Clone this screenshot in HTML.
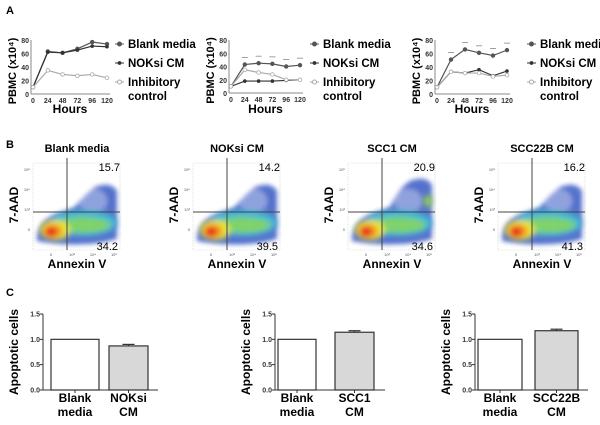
<!DOCTYPE html>
<html><head><meta charset="utf-8"><style>
html,body{margin:0;padding:0;background:#fff}
svg{display:block;font-family:"Liberation Sans",Arial,sans-serif}
</style></head><body>
<svg id="fig" width="600" height="425" viewBox="0 0 600 425">
<defs>
<filter id="blur1" x="-50%" y="-50%" width="200%" height="200%"><feGaussianBlur stdDeviation="3"/></filter>
<filter id="blur2" x="-50%" y="-50%" width="200%" height="200%"><feGaussianBlur stdDeviation="2.5"/></filter>
</defs>
<text x="6" y="14" font-size="11" font-weight="bold">A</text>
<text x="6" y="148" font-size="11" font-weight="bold">B</text>
<text x="6" y="296" font-size="11" font-weight="bold">C</text>
<g id="pa"></g><g id="pb"></g><g id="pc"></g>
</svg>
<script>
const NS='http://www.w3.org/2000/svg';
function mk(p,t,a,txt){const e=document.createElementNS(NS,t);for(const k in a)e.setAttribute(k,a[k]);if(txt!==undefined)e.textContent=txt;p.appendChild(e);return e;}

// Panel A data
const hours=[0,24,48,72,96,120];
const yTicksA=[0,20,40,60,80];
const a1Blank=[10,63,61,67,77,74];
const a1Nok=[10,62,61,65,71,70];
const a1Inh=[10,35,29,27,29,24];
const a2Blank=[10,43,45,44,40,42];
const a2Nok=[10,18,18,18,19,20];
const a2Inh=[10,35,31,28,20,20];
const a3Blank=[10,51,66,61,57,65];
const a3Nok=[10,33,31,36,27,34];
const a3Inh=[10,33,31,31,26,28];
const seriesNames=['Blank media','NOKsi CM','Inhibitory control'];

const pa=document.getElementById('pa');
const chartsA=[
 {x0:33,x1:107,yTop:40,yBot:94,lab:12,leg:115,data:[a1Blank,a1Nok,a1Inh],stars:false},
 {x0:231,x1:300,yTop:40,yBot:93,lab:210,leg:310,data:[a2Blank,a2Nok,a2Inh],stars:true},
 {x0:437,x1:507,yTop:40,yBot:94,lab:416,leg:527,data:[a3Blank,a3Nok,a3Inh],stars:true}
];
chartsA.forEach((c,ci)=>{
 const g=mk(pa,'g',{});
 
 
 const sx=h=>c.x0+(h/120)*(c.x1-c.x0);
 const sy=v=>c.yBot-(v/80)*(c.yBot-c.yTop);
 mk(g,'line',{x1:c.x0-2,y1:c.yTop,x2:c.x0-2,y2:c.yBot,stroke:'#888','stroke-width':1});
 mk(g,'line',{x1:c.x0-2,y1:c.yBot,x2:c.x1+3,y2:c.yBot,stroke:'#888','stroke-width':1});
 yTicksA.forEach(t=>{const tx=mk(g,'text',{x:c.x0-4,y:sy(t)+3,'font-size':7,'font-weight':'bold','text-anchor':'end',fill:'#333'},t);
  });
 hours.forEach(h=>{const tx=mk(g,'text',{x:sx(h),y:c.yBot+9,'font-size':7,'font-weight':'bold','text-anchor':'middle',fill:'#333'},h);
  });
 const yl=mk(g,'text',{x:0,y:0,'font-size':11,'font-weight':'bold','text-anchor':'middle',transform:`translate(${c.lab+4},${(c.yTop+c.yBot)/2+4}) rotate(-90)`},'PBMC (x10⁴)');
 
 const xl=mk(g,'text',{x:(c.x0+c.x1)/2,y:113,'font-size':12,'font-weight':'bold','text-anchor':'middle'},'Hours');
 
 const cols=['#555','#333','#aaa'];
 c.data.forEach((d,si)=>{
  const pts=d.map((v,i)=>sx(hours[i])+','+sy(v)).join(' ');
  const pl=mk(g,'polyline',{points:pts,fill:'none',stroke:cols[si],'stroke-width':1.2});
  
  d.forEach((v,i)=>{
   const m=mk(g,'circle',{cx:sx(hours[i]),cy:sy(v),r:si==1?1.4:1.8,fill:si==2?'#fff':cols[si],stroke:cols[si],'stroke-width':0.8});
   
   if(c.stars&&si==0&&i>0)mk(g,'line',{x1:sx(hours[i])-3,y1:sy(v)-7,x2:sx(hours[i])+3,y2:sy(v)-7,stroke:'#888','stroke-width':0.8});
  });
 });
 seriesNames.forEach((n,si)=>{
  const y=44+si*19;
  mk(g,'line',{x1:c.leg,y1:y,x2:c.leg+9,y2:y,stroke:cols[si],'stroke-width':1});
  mk(g,'circle',{cx:c.leg+4.5,cy:y,r:si==1?1.4:2,fill:si==2?'#fff':cols[si],stroke:cols[si]});
  if(si<2){const t=mk(g,'text',{x:c.leg+13,y:y+4,'font-size':11.5,'font-weight':'bold'},n);
   }
  else{const t=mk(g,'text',{x:c.leg+13,y:y+4,'font-size':11.5,'font-weight':'bold'},'Inhibitory');
   
   mk(g,'text',{x:c.leg+13,y:y+18,'font-size':11.5,'font-weight':'bold'},'control');}
 });
});

// Panel B data
const flowTitles=['Blank media','NOKsi CM','SCC1 CM','SCC22B CM'];
const flowUR=['15.7','14.2','20.9','16.2'];
const flowLR=['34.2','39.5','34.6','41.3'];
const flowX=[33,193,348,498];
const pb=document.getElementById('pb');
flowTitles.forEach((title,i)=>{
 const x0=flowX[i],y0=163,w=87,h=87,gx=x0+34,gy=212;
 const g=mk(pb,'g',{});
 
 
 mk(g,'rect',{x:x0,y:y0,width:w,height:h,fill:'none',stroke:'#ccc','stroke-dasharray':'1,1','stroke-width':0.6});
 const bg=mk(g,'g',{filter:'url(#blur2)',opacity:0.8});
 const top=i==2?y0+18:y0+24;
 mk(bg,'path',{d:`M${x0+4},${y0+78} Q${x0+3},${y0+56} ${x0+28},${y0+50} L${x0+42},${y0+44} Q${x0+50},${top+8} ${x0+62},${top} Q${x0+78},${top-6} ${x0+84},${top+4} L${x0+84},${y0+76} Q${x0+50},${y0+86} ${x0+4},${y0+78}Z`,fill:'#2a4fc0'});
 mk(bg,'ellipse',{cx:x0+60,cy:y0+38,rx:14,ry:12,fill:'#fff',opacity:0.35});
 const bl=mk(g,'g',{filter:'url(#blur1)'});
 mk(bl,'ellipse',{cx:x0+50,cy:y0+60,rx:34,ry:13,fill:'#3fb9d6'});
 mk(bl,'ellipse',{cx:x0+50,cy:y0+62,rx:28,ry:8,fill:'#7ed36a'});
 mk(bl,'ellipse',{cx:x0+22,cy:y0+67,rx:15,ry:10,fill:'#e8e83a'});
 mk(bl,'ellipse',{cx:x0+20,cy:y0+68,rx:10,ry:7,fill:'#f5951f'});
 mk(bl,'ellipse',{cx:x0+18,cy:y0+69,rx:6,ry:5,fill:'#e8231d'});
 if(i==2)mk(bl,'ellipse',{cx:x0+80,cy:y0+38,rx:4,ry:6,fill:'#9ad645'});
 mk(g,'line',{x1:gx,y1:y0-5,x2:gx,y2:y0+h,stroke:'#444','stroke-width':1});
 mk(g,'line',{x1:x0,y1:gy,x2:x0+w,y2:gy,stroke:'#444','stroke-width':1});
 const t=mk(g,'text',{x:x0+44,y:152,'font-size':11,'font-weight':'bold','text-anchor':'middle'},title);
 
 const u=mk(g,'text',{x:x0+w,y:171,'font-size':11,'text-anchor':'end'},flowUR[i]);
 
 const l=mk(g,'text',{x:x0+w-2,y:250,'font-size':11,'text-anchor':'end'},flowLR[i]);
 
 const yl=mk(g,'text',{x:0,y:0,'font-size':12,'font-weight':'bold','text-anchor':'middle',transform:`translate(${x0-15},${y0+42}) rotate(-90)`},'7-AAD');
 
 const xl=mk(g,'text',{x:x0+44,y:268,'font-size':12,'font-weight':'bold','text-anchor':'middle'},'Annexin V');
 
 ['10⁵','10⁴','10³','0'].forEach((s,k)=>mk(g,'text',{x:x0-3,y:y0+8+k*20,'font-size':4,'text-anchor':'end',fill:'#555'},s));
 ['0','10³','10⁴','10⁵'].forEach((s,k)=>mk(g,'text',{x:x0+18+k*21,y:y0+h+6,'font-size':4,'text-anchor':'middle',fill:'#555'},s));
});

// Panel C data
const barCats=[['Blank','media'],['NOKsi','CM'],['SCC1','CM'],['SCC22B','CM']];
const c1Vals=[1.0,0.87];
const c2Vals=[1.0,1.14];
const c3Vals=[1.0,1.17];
const barErr=[0.03,0.03,0.03];
const yTicksC=[0,0.5,1.0,1.5];
const pc=document.getElementById('pc');
const chartsC=[
 {ax:43,end:158,bars:[[51,99],[109,148]],vals:c1Vals,cats:[barCats[0],barCats[1]],e:barErr[0]},
 {ax:275,end:385,bars:[[278,316],[335,374]],vals:c2Vals,cats:[barCats[0],barCats[2]],e:barErr[1]},
 {ax:475,end:588,bars:[[478,522],[535,578]],vals:c3Vals,cats:[barCats[0],barCats[3]],e:barErr[2]}
];
chartsC.forEach((c,ci)=>{
 const g=mk(pc,'g',{});
 
 
 const yT=314,yB=390;
 const sy=v=>yB-(v/1.5)*(yB-yT);
 c.vals.forEach((v,bi)=>{
  const [a,b]=c.bars[bi];
  const r=mk(g,'rect',{x:a,y:sy(v),width:b-a,height:yB-sy(v),fill:bi?'#d8d8d8':'#fff',stroke:'#333','stroke-width':1.2});
  
  if(bi){mk(g,'line',{x1:(a+b)/2,y1:sy(v+c.e),x2:(a+b)/2,y2:sy(v),stroke:'#333'});
   mk(g,'line',{x1:(a+b)/2-6,y1:sy(v+c.e),x2:(a+b)/2+6,y2:sy(v+c.e),stroke:'#333','stroke-width':1.2});}
  c.cats[bi].forEach((s,li)=>{const t=mk(g,'text',{x:(a+b)/2,y:402+li*14,'font-size':12,'font-weight':'bold','text-anchor':'middle'},s);
   });
  mk(g,'line',{x1:(a+b)/2,y1:yB,x2:(a+b)/2,y2:yB+3,stroke:'#333'});
 });
 mk(g,'line',{x1:c.ax,y1:yT,x2:c.ax,y2:yB,stroke:'#333','stroke-width':1});
 mk(g,'line',{x1:c.ax,y1:yB,x2:c.end,y2:yB,stroke:'#333','stroke-width':1});
 yTicksC.forEach(t=>{mk(g,'line',{x1:c.ax-3,y1:sy(t),x2:c.ax,y2:sy(t),stroke:'#333'});
  const tx=mk(g,'text',{x:c.ax-3,y:sy(t)+2.5,'font-size':7,'font-weight':'bold','text-anchor':'end',fill:'#333'},t.toFixed(1));
  });
 const yl=mk(g,'text',{x:0,y:0,'font-size':12,'font-weight':'bold','text-anchor':'middle',transform:`translate(${c.ax-25},${(yT+yB)/2}) rotate(-90)`},'Apoptotic cells');
 
});
</script>
</body></html>
